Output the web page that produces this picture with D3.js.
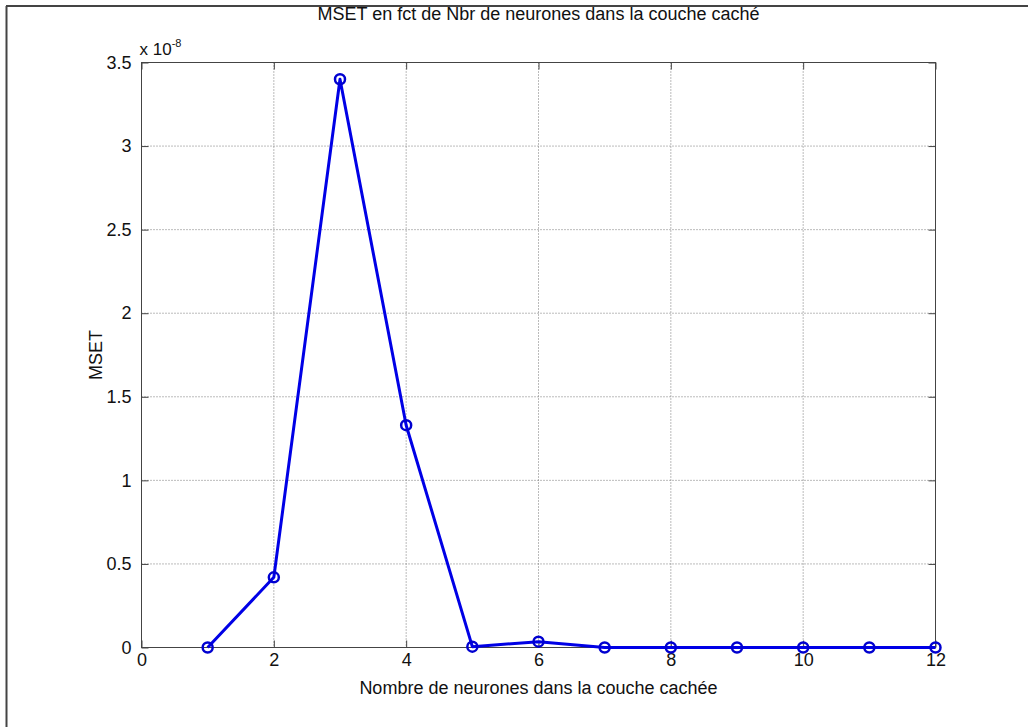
<!DOCTYPE html>
<html><head><meta charset="utf-8">
<script src="https://cdn.jsdelivr.net/npm/d3@7"></script>
<style>body{margin:0;background:#fff}svg{display:block}text{font-family:"Liberation Sans",Arial,sans-serif}</style>
</head><body>
<script>
const xValues = [1,2,3,4,5,6,7,8,9,10,11,12];
const mset = [0,0.42,3.40,1.33,0.005,0.035,0,0,0,0,0,0]; // x 1e-8
const xTicks = [0,2,4,6,8,10,12];
const yTicks = [0,0.5,1,1.5,2,2.5,3,3.5];
const titleText = "MSET en fct de Nbr de neurones dans la couche caché";
const xLabel = "Nombre de neurones dans la couche cachée";
const yLabel = "MSET";

const W=1028,H=727;
const svg=d3.select("body").append("svg").attr("width",W).attr("height",H);
svg.append("rect").attr("width",W).attr("height",H).attr("fill","#fff");
// outer frame
svg.append("line").attr("x1",6).attr("x2",W).attr("y1",6).attr("y2",6).attr("stroke","#444").attr("stroke-width",2);
svg.append("line").attr("x1",6.5).attr("x2",6.5).attr("y1",6).attr("y2",H).attr("stroke","#444").attr("stroke-width",2);

const L=141.5,R=935.5,T=62.5,B=647.5;
const x=d3.scaleLinear().domain([0,12]).range([L,R]);
const y=d3.scaleLinear().domain([0,3.5]).range([B,T]);
const g=svg.append("g");
// grid
g.selectAll(".gx").data(xTicks.slice(1,-1)).join("line").attr("x1",d=>x(d)).attr("x2",d=>x(d)).attr("y1",T).attr("y2",B)
 .attr("stroke","#777").attr("stroke-width",1).attr("stroke-dasharray","1,2");
g.selectAll(".gy").data(yTicks.slice(1,-1)).join("line").attr("y1",d=>y(d)).attr("y2",d=>y(d)).attr("x1",L).attr("x2",R)
 .attr("stroke","#777").attr("stroke-width",1).attr("stroke-dasharray","1,2");
// box
g.append("rect").attr("x",L).attr("y",T).attr("width",R-L).attr("height",B-T).attr("fill","none").attr("stroke","#444").attr("stroke-width",1);
// axes with inward ticks
svg.append("g").attr("transform",`translate(0,${B})`).call(d3.axisBottom(x).tickValues(xTicks).tickSize(-7).tickPadding(6).tickFormat(d3.format("d")));
svg.append("g").attr("transform",`translate(${L},0)`).call(d3.axisLeft(y).tickValues(yTicks).tickSize(-7).tickPadding(10).tickFormat(d=>d));
svg.append("g").attr("transform",`translate(0,${T})`).call(d3.axisTop(x).tickValues(xTicks).tickSize(-7).tickFormat(""));
svg.append("g").attr("transform",`translate(${R},0)`).call(d3.axisRight(y).tickValues(yTicks).tickSize(-7).tickFormat(""));
svg.selectAll(".domain").remove();
svg.selectAll(".tick line").attr("stroke","#444");
svg.selectAll(".tick text").attr("font-size",18).attr("fill","#111").attr("font-family","Liberation Sans, Arial, sans-serif");
// exponent
const ex=svg.append("text").attr("x",L-2).attr("y",T-8).attr("font-size",17).attr("fill","#111");
ex.append("tspan").text("x 10");
ex.append("tspan").attr("dy",-8).attr("font-size",11).text("-8");
// line
const line=d3.line().x((d,i)=>x(xValues[i])).y(d=>y(d));
svg.append("path").datum(mset).attr("d",line).attr("fill","none").attr("stroke","#0000e6").attr("stroke-width",3).attr("stroke-linejoin","round");
svg.selectAll(".pt").data(mset).join("circle").attr("cx",(d,i)=>x(xValues[i])).attr("cy",d=>y(d)).attr("r",5)
 .attr("fill","none").attr("stroke","#0000d0").attr("stroke-width",2.5);
// labels
svg.append("text").attr("x",(L+R)/2).attr("y",20).attr("text-anchor","middle").attr("font-size",18).attr("fill","#111").text(titleText);
svg.append("text").attr("x",(L+R)/2).attr("y",694).attr("text-anchor","middle").attr("font-size",18).attr("fill","#111").text(xLabel);
svg.append("text").attr("transform",`translate(102,${(T+B)/2}) rotate(-90)`).attr("text-anchor","middle").attr("font-size",18).attr("fill","#111").text(yLabel);
</script>
</body></html>
